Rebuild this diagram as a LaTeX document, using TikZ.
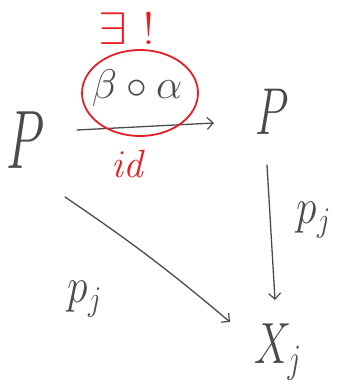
\documentclass[tikz,border=0pt]{standalone}
\usepackage{graphicx}
\usetikzlibrary{arrows.meta}
\definecolor{pencil}{RGB}{75,75,75}
\definecolor{redpen}{RGB}{232,30,35}
\begin{document}
\begin{tikzpicture}[x=1pt,y=-1pt,
  obj/.style={text=pencil, inner sep=0pt},
  lab/.style={text=pencil, inner sep=0pt},
  arr/.style={draw=pencil, line width=1.3pt, line cap=round, -{Straight Barb[length=6pt,width=12pt,line width=1.2pt]}},
  redlab/.style={text=redpen, inner sep=0pt}]
\useasboundingbox (0,0) rectangle (342,382);
\node[obj] (P1) at (26,140) {\scalebox{2.4}[4.0]{\huge$P$}};
\node[obj] (P2) at (272,112) {\scalebox{2.1}[3.2]{\huge$P$}};
\node[obj] (Xj) at (278,352) {\scalebox{2.0}[2.8]{\huge$X_j$}};
\coordinate (a1) at (77,130);
\coordinate (a2) at (214,123);
\draw[arr] (a1) -- (a2);
\coordinate (v1) at (267,165);
\coordinate (v2) at (275,300);
\draw[arr] (v1) -- (v2);
\coordinate (d1) at (65,197);
\coordinate (d2) at (230,322);
\draw[arr] (d1) to[bend left=3] (d2);
\node[lab] (pj) at (314,220) {\scalebox{2}[2.4]{\huge$p_j$}};
\node[lab] (pi) at (85,299) {\scalebox{2}[2.4]{\huge$p_j$}};
\node[text=pencil, inner sep=0pt] (ba) at (137,88) {\scalebox{2}{\huge$\beta\circ\alpha$}};
\draw[redpen, line width=1.8pt] (140,93) ellipse (58 and 43);
\node[redlab] (ex) at (127,29) {\scalebox{2.5}[2.2]{\huge$\exists\;!$}};
\node[redlab] (id) at (129,164) {\scalebox{1.9}{\huge$\mathit{id}$}};
\end{tikzpicture}
\end{document}
